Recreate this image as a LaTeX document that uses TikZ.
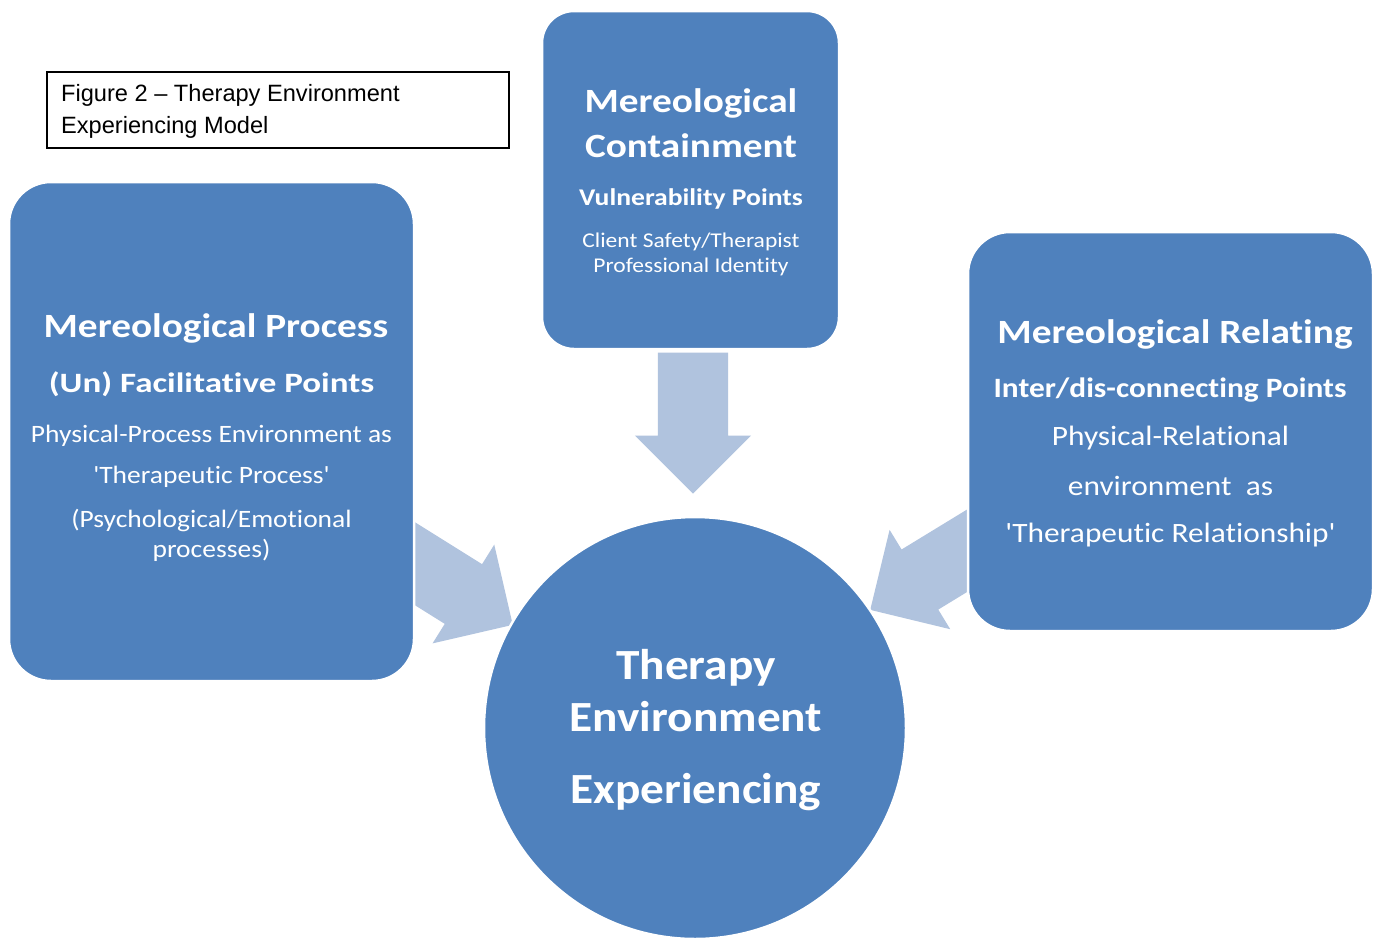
\documentclass[tikz,border=0pt]{standalone}
\usepackage{fontspec}
\setmainfont{Liberation Sans}
\newfontfamily\carl[Ligatures=NoCommon]{Carlito}
\usetikzlibrary{shapes.arrows}
\definecolor{boxblue}{HTML}{4F81BD}
\definecolor{arrowblue}{HTML}{B0C3DE}
\newcommand\hstr[2]{\scalebox{#1}[1]{#2}}
\begin{document}
\begin{tikzpicture}[x=1pt,y=-1pt,
  box/.style={fill=boxblue, draw=white, line width=2.5pt, rounded corners=#1, inner sep=0pt},
  arr/.style={single arrow, fill=arrowblue, minimum height=141pt, inner xsep=0pt, inner ysep=35pt,
    single arrow head extend=23pt, single arrow tip angle=90},
  txt/.style={text=white, anchor=base, inner sep=0pt},
  hd/.style={txt, font=\carl\bfseries\fontsize{34}{34}\selectfont},
  sub/.style={txt, font=\carl\bfseries\fontsize{28}{28}\selectfont},
  bd/.style={txt, font=\carl\fontsize{25}{25}\selectfont},
  bdr/.style={txt, font=\carl\fontsize{28}{28}\selectfont},
  bds/.style={txt, font=\carl\fontsize{21}{21}\selectfont},
  ct/.style={txt, font=\carl\bfseries\fontsize{43}{43}\selectfont},
  captxt/.style={text=black, font=\fontsize{23.6}{23.6}\selectfont, anchor=base west, inner sep=0pt}]
\useasboundingbox (0,0) rectangle (1379,940);
\fill[white] (0,0) rectangle (1379,940);
% arrows (behind the shapes)
\node[arr, rotate=-90, anchor=tip] (atop) at (693,494) {};
\node[arr, rotate=-32, anchor=tip] (aleft) at (513,625) {};
\node[arr, rotate=211.4, anchor=tip] (aright) at (870,610) {};
% boxes
\node[box=42pt, minimum width=405pt, minimum height=499pt] (left) at (211.5,431.5) {};
\node[box=32pt, minimum width=297pt, minimum height=338pt] (top) at (690.5,180) {};
\node[box=42pt, minimum width=405pt, minimum height=399pt] (right) at (1170.5,431.5) {};
\node[circle, fill=boxblue, draw=white, line width=2.5pt, minimum size=422pt, inner sep=0pt] (exp) at (695,728) {};
% caption
\node[draw=black, line width=1.3pt, minimum width=462pt, minimum height=76pt, inner sep=0pt] (capbox) at (278,110) {};
\node[captxt] (cap1) at (61,101) {Figure 2 – Therapy Environment};
\node[captxt] (cap2) at (61,133) {Experiencing Model};
% left text
\node[hd] (l1) at (216,337) {\hstr{1.155}{Mereological Process}};
\node[sub] (l2) at (211.5,392) {\hstr{1.25}{(Un) Facilitative Points}};
\node[bd] (l3) at (211.5,442) {\hstr{1.10}{Physical-Process Environment as}};
\node[bd] (l4) at (211.5,483) {\hstr{1.10}{'Therapeutic Process'}};
\node[bd] (l5) at (211.5,527) {\hstr{1.10}{(Psychological/Emotional}};
\node[bd] (l6) at (211.5,557) {\hstr{1.10}{processes)}};
% top text
\node[hd] (t1) at (691,112) {\hstr{1.155}{Mereological}};
\node[hd] (t2) at (691,157) {\hstr{1.155}{Containment}};
\node[sub, font=\carl\bfseries\fontsize{24}{24}\selectfont] (t3) at (691,205) {\hstr{1.15}{Vulnerability Points}};
\node[bds] (t4) at (691,247) {\hstr{1.12}{Client Safety/Therapist}};
\node[bds] (t5) at (691,272) {\hstr{1.12}{Professional Identity}};
% right text
\node[hd] (r1) at (1175,343) {\hstr{1.157}{Mereological Relating}};
\node[sub] (r2) at (1170,397) {\hstr{1.12}{Inter/dis-connecting Points}};
\node[bdr] (r3) at (1170.5,445) {\hstr{1.12}{Physical-Relational}};
\node[bdr] (r4) at (1170.5,495) {\hstr{1.12}{environment\ \ as}};
\node[bdr] (r5) at (1170.5,542) {\hstr{1.12}{'Therapeutic Relationship'}};
% circle text
\node[ct] (c1) at (696,679) {\hstr{1.1}{Therapy}};
\node[ct] (c2) at (696,731) {\hstr{1.1}{Environment}};
\node[ct] (c3) at (696,803) {\hstr{1.1}{Experiencing}};
\end{tikzpicture}
\end{document}
